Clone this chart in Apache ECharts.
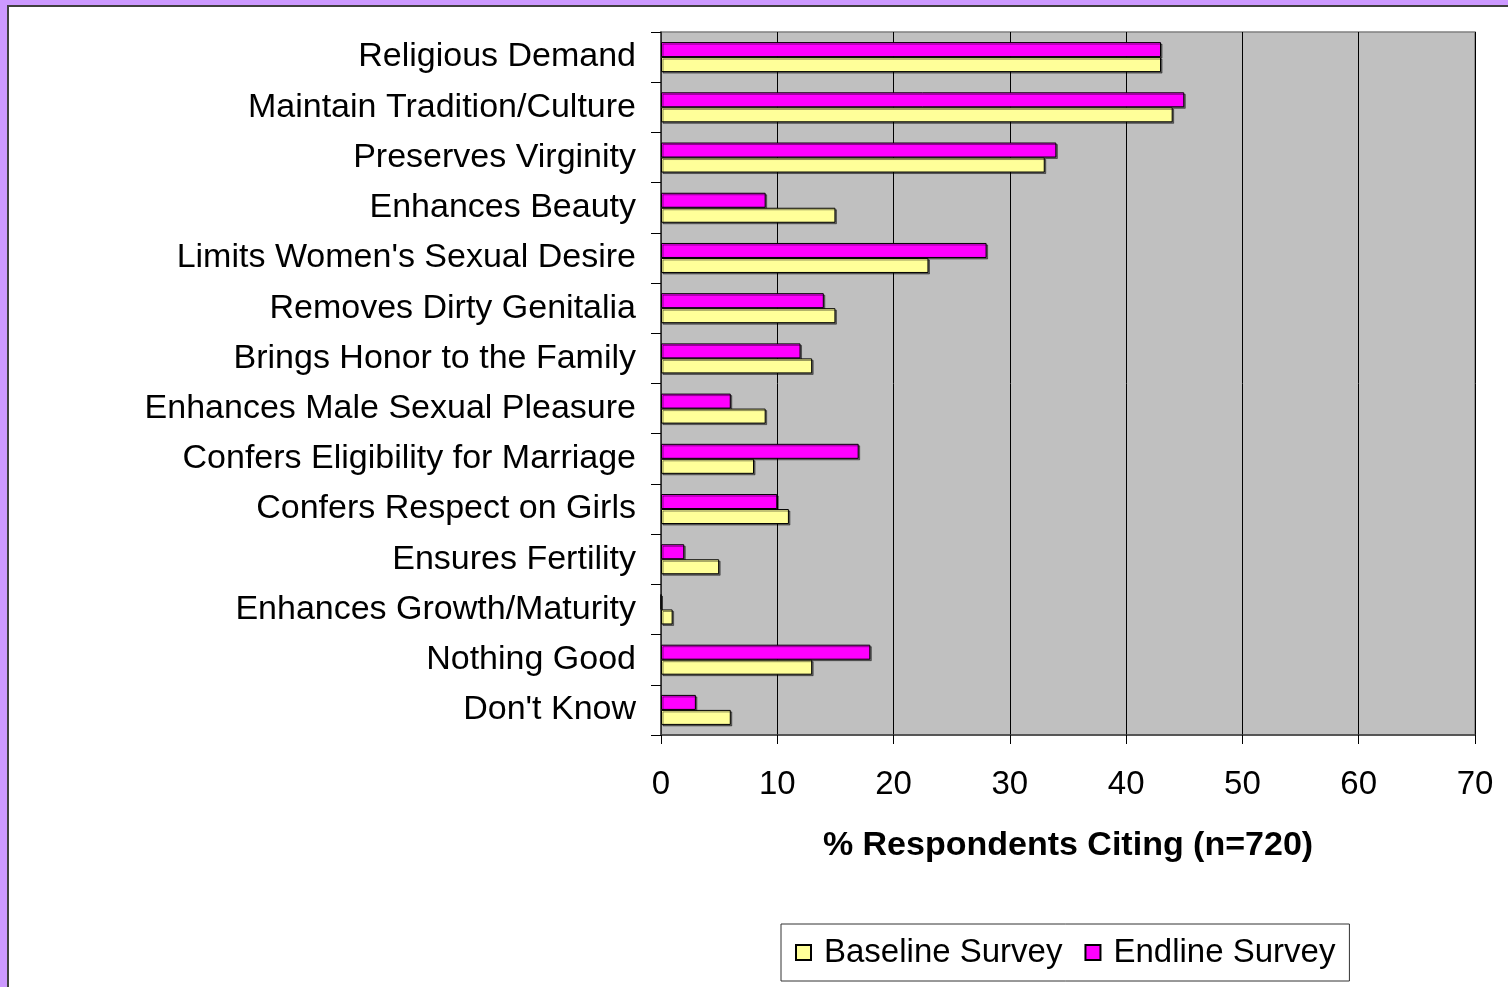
<!DOCTYPE html>
<html>
<head>
<meta charset="utf-8">
<script src="https://cdn.jsdelivr.net/npm/echarts@6/dist/echarts.min.js"></script>
<style>
html,body{margin:0;padding:0;background:#fff;}
#chart{width:1508px;height:987px;}
</style>
</head>
<body>
<div id="chart"></div>
<script>
const categories = [
  "Religious Demand",
  "Maintain Tradition/Culture",
  "Preserves Virginity",
  "Enhances Beauty",
  "Limits Women's Sexual Desire",
  "Removes Dirty Genitalia",
  "Brings Honor to the Family",
  "Enhances Male Sexual Pleasure",
  "Confers Eligibility for Marriage",
  "Confers Respect on Girls",
  "Ensures Fertility",
  "Enhances Growth/Maturity",
  "Nothing Good",
  "Don't Know"
];
const baseline = [43, 44, 33, 15, 23, 15, 13, 9, 8, 11, 5, 1, 13, 6];
const endline  = [43, 45, 34, 9, 28, 14, 12, 6, 17, 10, 2, 0, 18, 3];
const xTicks = [0, 10, 20, 30, 40, 50, 60, 70];
const axisTitle = "% Respondents Citing (n=720)";
const seriesNames = ["Baseline Survey", "Endline Survey"];

const FONT = "'Liberation Sans', Arial, sans-serif";
const chart = echarts.init(document.getElementById('chart'), null, {renderer: 'canvas'});

const barStyle = (color) => ({
  color: color,
  borderColor: '#000',
  borderWidth: 1,
  shadowColor: 'rgba(0,0,0,0.45)',
  shadowOffsetX: 1.5,
  shadowOffsetY: 1.5,
  shadowBlur: 0
});

chart.setOption({
  animation: false,
  backgroundColor: '#fff',
  textStyle: {fontFamily: FONT},
  graphic: [
    {type: 'rect', shape: {x: 0, y: 0, width: 1508, height: 5}, style: {fill: '#CC99FF'}, silent: true},
    {type: 'rect', shape: {x: 0, y: 0, width: 7, height: 987}, style: {fill: '#CC99FF'}, silent: true},
    {type: 'rect', shape: {x: 7, y: 5, width: 1501, height: 2}, style: {fill: '#404040'}, silent: true},
    {type: 'rect', shape: {x: 7, y: 5, width: 2, height: 982}, style: {fill: '#404040'}, silent: true}
  ],
  grid: {
    left: 661, top: 32, right: 33, bottom: 252,
    show: true,
    backgroundColor: '#C0C0C0',
    borderColor: '#808080',
    borderWidth: 1.5
  },
  legend: {
    data: seriesNames,
    left: 781,
    top: 924,
    orient: 'horizontal',
    backgroundColor: '#fff',
    borderColor: '#333',
    borderWidth: 1,
    borderRadius: 0,
    padding: [12, 14, 12, 14],
    itemWidth: 15,
    itemHeight: 15,
    itemGap: 22,
    icon: 'rect',
    textStyle: {fontSize: 33, color: '#000', fontFamily: FONT, padding: [0, 0, 0, 8]}
  },
  xAxis: {
    type: 'value',
    min: 0, max: 70, interval: 10,
    name: axisTitle,
    nameLocation: 'middle',
    nameGap: 94,
    nameTextStyle: {fontSize: 34, fontWeight: 'bold', color: '#000', fontFamily: FONT},
    axisLine: {show: true, lineStyle: {color: '#404040', width: 1.5}},
    axisTick: {show: true, length: 9, lineStyle: {color: '#000'}},
    axisLabel: {fontSize: 33, color: '#000', margin: 33, fontFamily: FONT,
      formatter: (v) => xTicks.includes(v) ? String(v) : ''},
    splitLine: {show: true, lineStyle: {color: '#000', width: 1}}
  },
  yAxis: {
    type: 'category',
    inverse: true,
    data: categories,
    axisLine: {show: true, lineStyle: {color: '#404040', width: 1.5}},
    axisTick: {show: true, length: 10, lineStyle: {color: '#000'}},
    axisLabel: {fontSize: 34, color: '#000', margin: 25, fontFamily: FONT},
    splitLine: {show: false}
  },
  series: [
    {
      name: seriesNames[1],
      type: 'bar',
      data: endline,
      barWidth: 15,
      barGap: '0%',
      itemStyle: barStyle('#FF00FF')
    },
    {
      name: seriesNames[0],
      type: 'bar',
      data: baseline,
      barWidth: 15,
      barGap: '0%',
      itemStyle: barStyle('#FFFF99')
    }
  ]
});
</script>
</body>
</html>
